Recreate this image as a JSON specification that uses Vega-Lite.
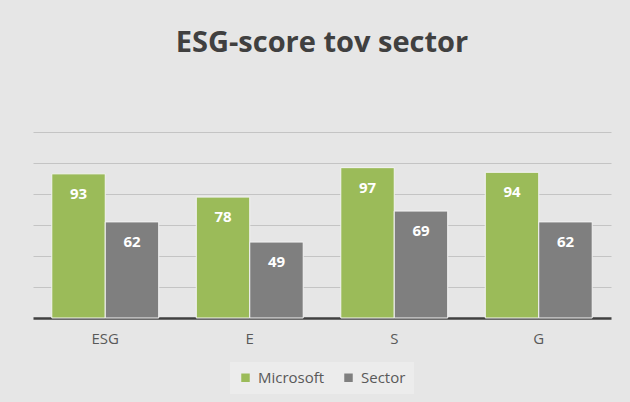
{
  "$schema": "https://vega.github.io/schema/vega-lite/v6.json",
  "autosize": {"type": "none"},
  "width": 578,
  "height": 186,
  "padding": {"left": 33, "top": 132, "right": 19, "bottom": 84},
  "background": "#e6e6e6",
  "title": {
    "text": "ESG-score tov sector",
    "font": "Open Sans",
    "fontSize": 29,
    "fontWeight": "bold",
    "color": "#404040",
    "anchor": "middle",
    "offset": 74
  },
  "data": {
    "values": [
      {"category": "ESG", "series": "Microsoft", "score": 93},
      {"category": "ESG", "series": "Sector", "score": 62},
      {"category": "E", "series": "Microsoft", "score": 78},
      {"category": "E", "series": "Sector", "score": 49},
      {"category": "S", "series": "Microsoft", "score": 97},
      {"category": "S", "series": "Sector", "score": 69},
      {"category": "G", "series": "Microsoft", "score": 94},
      {"category": "G", "series": "Sector", "score": 62}
    ]
  },
  "encoding": {
    "x": {
      "field": "category",
      "type": "nominal",
      "sort": ["ESG", "E", "S", "G"],
      "scale": {"paddingInner": 0.26, "paddingOuter": 0.13},
      "axis": {
        "title": null,
        "labelAngle": 0,
        "labelFont": "Open Sans",
        "labelFontSize": 15,
        "labelColor": "#595959",
        "labelPadding": 13,
        "ticks": false,
        "domainColor": "#404040",
        "domainWidth": 2.5
      }
    },
    "xOffset": {"field": "series", "type": "nominal", "sort": ["Microsoft", "Sector"]},
    "y": {
      "field": "score",
      "type": "quantitative",
      "scale": {"domain": [0, 120], "nice": false},
      "axis": {
        "title": null,
        "labels": false,
        "ticks": false,
        "domain": false,
        "values": [20, 40, 60, 80, 100, 120],
        "gridColor": "#c4c4c4",
        "gridWidth": 1
      }
    }
  },
  "layer": [
    {
      "mark": {"type": "bar", "stroke": "#f4f4f4", "strokeWidth": 1},
      "encoding": {
        "color": {
          "field": "series",
          "type": "nominal",
          "sort": ["Microsoft", "Sector"],
          "scale": {"domain": ["Microsoft", "Sector"], "range": ["#9BBB59", "#7F7F7F"]},
          "legend": {
            "title": null,
            "orient": "none",
            "legendX": 197,
            "legendY": 230,
            "direction": "horizontal",
            "symbolType": "square",
            "symbolSize": 72,
            "symbolStrokeWidth": 0,
            "labelFont": "Open Sans",
            "labelFontSize": 15,
            "labelColor": "#595959",
            "columnPadding": 16,
            "labelOffset": 5,
            "padding": 8,
            "fillColor": "#ececec"
          }
        }
      }
    },
    {
      "mark": {
        "type": "text",
        "baseline": "middle",
        "dy": 20,
        "font": "Open Sans",
        "fontSize": 15,
        "fontWeight": "bold",
        "color": "white"
      },
      "encoding": {
        "text": {"field": "score", "type": "quantitative"}
      }
    }
  ],
  "config": {"view": {"stroke": null}}
}
